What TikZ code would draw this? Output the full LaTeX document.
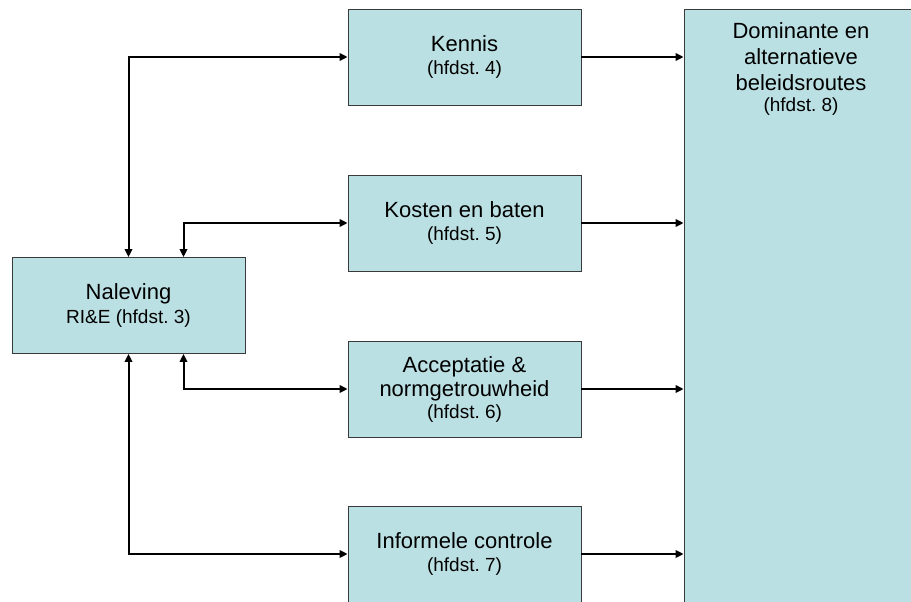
\documentclass[tikz,border=0pt]{standalone}
\usepackage{fontspec}
\setmainfont{Liberation Sans}
\usetikzlibrary{arrows.meta, positioning, calc}
\definecolor{boxFill}{HTML}{BBE0E3}
\definecolor{boxLine}{HTML}{3A3A3A}
\newcommand{\hoofdstuk}[1]{{\fontsize{19}{22}\selectfont (hfdst.~#1)}}

\begin{document}
\begin{tikzpicture}[
    x=1pt, y=-1pt,
    blok/.style={rectangle, draw=boxLine, line width=0.8pt, fill=boxFill,
                 minimum width=233pt, minimum height=96pt, align=center,
                 inner sep=2pt, font=\fontsize{22}{26}\selectfont},
    link/.style={line width=2pt, -{Triangle[length=8pt, width=7.5pt]}},
    both/.style={line width=2pt,
                 {Triangle[length=8pt, width=7.5pt]}-{Triangle[length=8pt, width=7.5pt]}},
  ]
    \useasboundingbox (0,0) rectangle (911,602);

    \node[blok] (nal) at (128.5, 305.5)
      {Naleving\\[-2pt]{\fontsize{19}{22}\selectfont RI\&E (hfdst.~3)}};

    \node[blok] (ken) at (464.5, 57)  {Kennis\\[-3pt]\hoofdstuk{4}};
    \node[blok] (kos) at (464.5, 223) {Kosten en baten\\[-3pt]\hoofdstuk{5}};
    \node[blok] (acc) at (464.5, 389) {Acceptatie \&\\[-2pt]normgetrouwheid\\[-4pt]\hoofdstuk{6}};
    \node[blok] (inf) at (464.5, 554) {Informele controle\\[-3pt]\hoofdstuk{7}};

    % grote kolom rechts, loopt door buiten de rand
    \node[blok, minimum width=236pt, minimum height=631pt] (dom) at (802, 324.5) {};
    \node[font=\fontsize{22}{26}\selectfont, align=center, anchor=north,
          inner sep=0pt] (domtxt) at (801, 22)
      {Dominante en\\alternatieve\\beleidsroutes\\[-5pt]\hoofdstuk{8}};

    \draw[both] (nal.north) |- (ken.west);
    \draw[both] ($(nal.north)+(55,0)$) |- (kos.west);
    \draw[both] ($(nal.south)+(55,0)$) |- (acc.west);
    \draw[both] (nal.south) |- (inf.west);

    \foreach \n in {ken, kos, acc, inf}
      \draw[link] (\n.east) -- (\n.east -| dom.west);
  \end{tikzpicture}
\end{document}
